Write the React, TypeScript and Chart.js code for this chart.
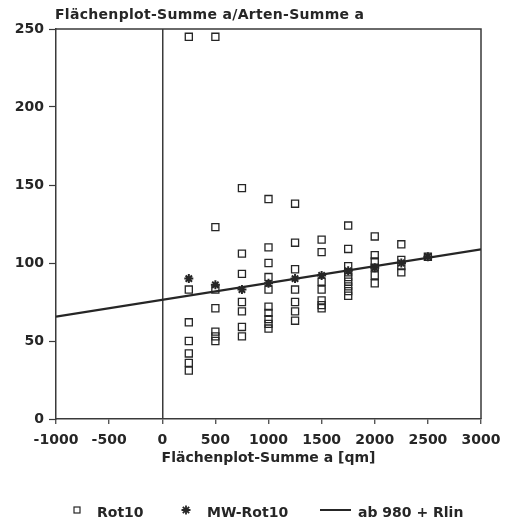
import React, { useEffect, useRef } from 'react';
import { Chart, registerables } from 'chart.js';

Chart.register(...registerables);

// Plot area sizes (qm) at which the Rot10 samples were taken
const areaSizes = [250, 500, 750, 1000, 1250, 1500, 1750, 2000, 2250, 2500];

// Rot10 ratios per area size
const rot10Values: number[][] = [
  [245, 83, 62, 50, 42, 36, 31],
  [245, 123, 83, 71, 56, 53, 50],
  [148, 106, 93, 75, 69, 59, 53],
  [141, 110, 100, 91, 83, 72, 68, 64, 61, 58],
  [138, 113, 96, 83, 75, 69, 63],
  [115, 107, 88, 83, 76, 73, 71],
  [124, 109, 98, 94, 91, 88, 85, 82, 79],
  [117, 105, 101, 97, 92, 87],
  [112, 102, 98, 94],
  [104],
];

// Mean values (MW-Rot10) per area size
const mwRot10 = [90, 86, 83, 87, 90, 92, 95, 97, 100, 104];

// Linear regression line (ab 980 + Rlin)
const regressionX = [-1000, 3000];
const regressionY = [65.6, 108.8];

const xTickValues = [-1000, -500, 0, 500, 1000, 1500, 2000, 2500, 3000];
const yTickValues = [0, 50, 100, 150, 200, 250];

const titleText = 'Flächenplot-Summe a/Arten-Summe a';
const xAxisTitle = 'Flächenplot-Summe a [qm]';
const seriesLabels = ['Rot10', 'MW-Rot10', 'ab 980 + Rlin'];

const INK = '#262626';
const AXIS = '#3a3a3a';
const FONT = '"DejaVu Sans", sans-serif';

const rot10Points = areaSizes.flatMap((x, i) => rot10Values[i].map((y) => ({ x, y })));
const mwPoints = areaSizes.map((x, i) => ({ x, y: mwRot10[i] }));
const regressionPoints = regressionX.map((x, i) => ({ x, y: regressionY[i] }));

function drawStar(ctx: CanvasRenderingContext2D, x: number, y: number, r: number) {
  ctx.beginPath();
  for (let k = 0; k < 4; k++) {
    const a = (k * Math.PI) / 4;
    ctx.moveTo(x - Math.cos(a) * r, y - Math.sin(a) * r);
    ctx.lineTo(x + Math.cos(a) * r, y + Math.sin(a) * r);
  }
  ctx.stroke();
}

// Draws the frame, the heading and the key below the axis
const decorPlugin = {
  id: 'decor',
  beforeDatasetsDraw(chart: any) {
    const { ctx, chartArea } = chart;
    ctx.save();
    ctx.strokeStyle = AXIS;
    ctx.lineWidth = 1.5;
    ctx.beginPath();
    ctx.moveTo(chartArea.left, chartArea.top);
    ctx.lineTo(chartArea.right, chartArea.top);
    ctx.lineTo(chartArea.right, chartArea.bottom);
    ctx.stroke();
    ctx.restore();
  },
  afterDraw(chart: any) {
    const { ctx, chartArea } = chart;
    ctx.save();
    ctx.fillStyle = INK;
    ctx.font = `bold 14px ${FONT}`;
    (ctx as any).letterSpacing = '0.3px';
    ctx.textBaseline = 'alphabetic';
    ctx.textAlign = 'left';
    ctx.fillText(titleText, chartArea.left - 1, chartArea.top - 10.5);
    (ctx as any).letterSpacing = '0px';

    // key
    const keyY = 513;
    ctx.textBaseline = 'middle';
    ctx.font = `bold 14px ${FONT}`;
    ctx.strokeStyle = INK;

    // squares
    ctx.lineWidth = 1.2;
    ctx.strokeRect(74, keyY - 6, 6, 6);
    ctx.fillText(seriesLabels[0], 97, keyY);

    // star
    ctx.lineWidth = 1.8;
    drawStar(ctx, 186, keyY - 3, 4.5);
    ctx.fillText(seriesLabels[1], 207, keyY);

    // line
    ctx.lineWidth = 2;
    ctx.beginPath();
    ctx.moveTo(320, keyY - 3);
    ctx.lineTo(351, keyY - 3);
    ctx.stroke();
    ctx.fillText(seriesLabels[2], 358, keyY);
    ctx.restore();
  },
};

export default function App() {
  const canvasRef = useRef<HTMLCanvasElement | null>(null);

  useEffect(() => {
    if (!canvasRef.current) return;
    const tickFont = { family: FONT, size: 14, weight: 'bold' as const };
    const plainNumber = (v: any) => String(v);
    const chart = new Chart(canvasRef.current, {
      type: 'scatter',
      data: {
        datasets: [
          {
            type: 'line',
            label: seriesLabels[2],
            data: regressionPoints,
            borderColor: INK,
            borderWidth: 2.2,
            pointRadius: 0,
            fill: false,
            order: 3,
          },
          {
            label: seriesLabels[0],
            data: rot10Points,
            pointStyle: 'rect',
            pointRadius: 5,
            pointBorderWidth: 1.3,
            borderColor: INK,
            backgroundColor: 'rgba(0,0,0,0)',
            order: 2,
          },
          {
            label: seriesLabels[1],
            data: mwPoints,
            pointStyle: 'star',
            pointRadius: 4.5,
            pointBorderWidth: 2,
            borderColor: INK,
            backgroundColor: INK,
            order: 1,
          },
        ],
      },
      options: {
        responsive: false,
        animation: false,
        layout: { padding: { left: 0, top: 29, right: 32, bottom: 57.6 } },
        plugins: {
          legend: { display: false },
          title: { display: false },
          tooltip: { enabled: false },
        },
        scales: {
          x: {
            type: 'linear',
            min: -1000,
            max: 3000,
            afterBuildTicks: (scale: any) => {
              scale.ticks = xTickValues.map((v) => ({ value: v }));
            },
            afterFit: (scale: any) => {
              scale.height = 47.4;
            },
            ticks: {
              font: tickFont,
              color: INK,
              padding: 8,
              maxRotation: 0,
              autoSkip: false,
              callback: plainNumber,
            },
            grid: {
              drawOnChartArea: true,
              color: (c: any) => (c.tick && c.tick.value === 0 ? AXIS : 'rgba(0,0,0,0)'),
              lineWidth: 1.5,
              tickLength: 5,
              tickColor: AXIS,
              tickWidth: 1.2,
            },
            border: { display: true, color: AXIS, width: 1.5 },
            title: {
              display: true,
              text: xAxisTitle,
              font: tickFont,
              color: INK,
              padding: 0,
            },
          },
          y: {
            type: 'linear',
            min: 0,
            max: 250,
            afterBuildTicks: (scale: any) => {
              scale.ticks = yTickValues.map((v) => ({ value: v }));
            },
            afterFit: (scale: any) => {
              scale.width = 56;
            },
            ticks: {
              font: tickFont,
              color: INK,
              padding: 5,
              callback: plainNumber,
            },
            grid: {
              drawOnChartArea: false,
              tickLength: 7,
              tickColor: AXIS,
              tickWidth: 1.2,
            },
            border: { display: true, color: AXIS, width: 1.5 },
          },
        },
      },
      plugins: [decorPlugin],
    });
    return () => chart.destroy();
  }, []);

  return (
    <div style={{ position: 'absolute', left: 0, top: 0, width: 513, height: 524, background: '#fff' }}>
      <canvas ref={canvasRef} width={513} height={524} />
    </div>
  );
}
